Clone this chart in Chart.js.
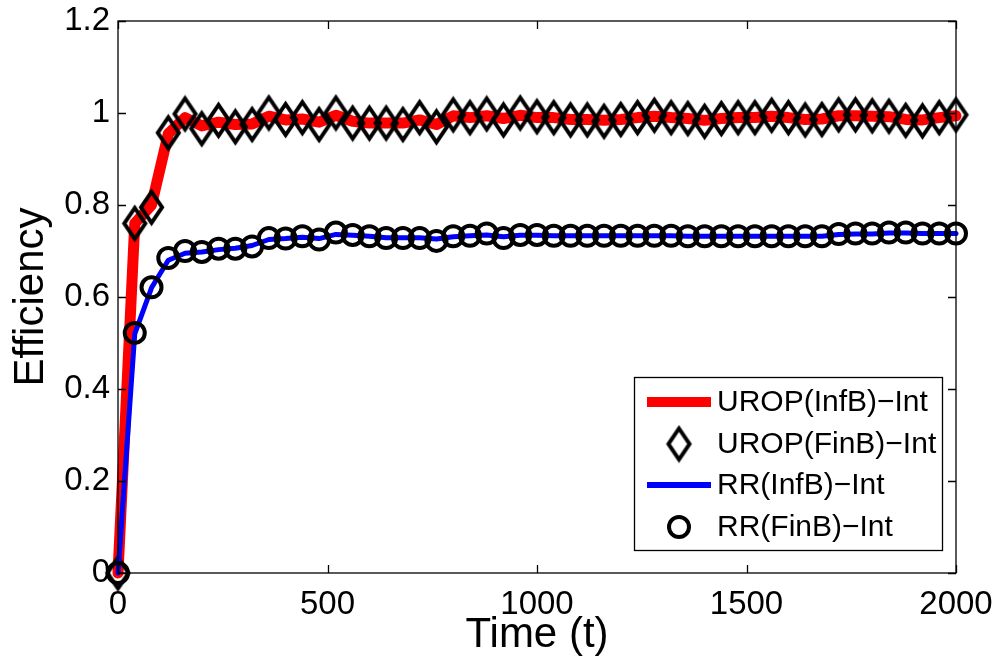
<!DOCTYPE html>
<html>
<head>
<meta charset="utf-8">
<script src="https://cdn.jsdelivr.net/npm/chart.js@4.4.1/dist/chart.umd.min.js"></script>
<style>
  html, body { margin: 0; padding: 0; background: #fff; }
  #wrap { width: 1002px; height: 662px; }
</style>
</head>
<body>
<div id="wrap"><canvas id="myEff" width="1002" height="662"></canvas></div>
<script>
// time steps (t)
const times = [0, 40, 80, 120, 160, 200, 240, 280, 320, 360, 400, 440, 480, 520, 560, 600, 640, 680, 720, 760,
  800, 840, 880, 920, 960, 1000, 1040, 1080, 1120, 1160, 1200, 1240, 1280, 1320, 1360, 1400, 1440, 1480,
  1520, 1560, 1600, 1640, 1680, 1720, 1760, 1800, 1840, 1880, 1920, 1960, 2000];

const uropInf = [0, 0.76, 0.80, 0.955, 0.99, 0.972, 0.98, 0.975, 0.976, 0.993, 0.985, 0.987, 0.98, 0.995, 0.982,
  0.978, 0.978, 0.978, 0.985, 0.975, 0.994, 0.99, 0.994, 0.988, 0.995, 0.99, 0.99, 0.986, 0.986, 0.984, 0.986,
  0.99, 0.993, 0.99, 0.988, 0.984, 0.988, 0.99, 0.99, 0.993, 0.99, 0.986, 0.987, 0.994, 0.994, 0.993, 0.992,
  0.986, 0.985, 0.99, 0.994];

const uropFin = [0, 0.76, 0.795, 0.957, 0.998, 0.966, 0.984, 0.97, 0.975, 1.0, 0.986, 0.99, 0.975, 1.0, 0.978,
  0.978, 0.978, 0.975, 0.99, 0.97, 0.996, 0.99, 0.998, 0.985, 1.0, 0.992, 0.99, 0.985, 0.985, 0.982, 0.986,
  0.99, 0.995, 0.99, 0.988, 0.982, 0.988, 0.99, 0.99, 0.995, 0.99, 0.985, 0.986, 0.996, 0.996, 0.994, 0.993,
  0.984, 0.983, 0.99, 0.996];

const rrInf = [0, 0.52, 0.62, 0.68, 0.695, 0.698, 0.703, 0.706, 0.712, 0.725, 0.727, 0.73, 0.727, 0.736, 0.734,
  0.732, 0.729, 0.729, 0.729, 0.726, 0.731, 0.733, 0.735, 0.731, 0.734, 0.734, 0.733, 0.733, 0.733, 0.733, 0.733,
  0.733, 0.733, 0.733, 0.732, 0.732, 0.732, 0.732, 0.732, 0.732, 0.732, 0.732, 0.732, 0.736, 0.737, 0.737, 0.739,
  0.739, 0.738, 0.738, 0.738];

const rrFin = [0, 0.522, 0.621, 0.685, 0.70, 0.698, 0.705, 0.705, 0.71, 0.728, 0.727, 0.732, 0.725, 0.74, 0.735,
  0.732, 0.728, 0.728, 0.728, 0.722, 0.732, 0.733, 0.738, 0.728, 0.735, 0.735, 0.733, 0.733, 0.733, 0.733, 0.733,
  0.733, 0.733, 0.733, 0.732, 0.732, 0.732, 0.732, 0.732, 0.732, 0.732, 0.732, 0.732, 0.737, 0.738, 0.738, 0.74,
  0.74, 0.738, 0.738, 0.738];

const seriesNames = ["UROP(InfB)\u2212Int", "UROP(FinB)\u2212Int", "RR(InfB)\u2212Int", "RR(FinB)\u2212Int"];
const xTicks = [0, 500, 1000, 1500, 2000];
const yTicks = [0, 0.2, 0.4, 0.6, 0.8, 1, 1.2];

const FONT = "'Liberation Sans', Arial, Helvetica, sans-serif";

function pts(ys) {
  return times.map((t, i) => ({ x: t, y: ys[i] }));
}

// tall diamond marker like matlab
function makeDiamond(w, h, lw) {
  const c = document.createElement("canvas");
  c.width = w + lw * 2;
  c.height = h + lw * 2;
  const g = c.getContext("2d");
  const cx = c.width / 2, cy = c.height / 2;
  g.beginPath();
  g.moveTo(cx, cy - h / 2);
  g.lineTo(cx + w / 2, cy);
  g.lineTo(cx, cy + h / 2);
  g.lineTo(cx - w / 2, cy);
  g.closePath();
  g.lineWidth = lw;
  g.lineJoin = "miter";
  g.strokeStyle = "#000";
  g.stroke();
  return c;
}
const diamond = makeDiamond(21, 31, 4);

function drawCircle(ctx, x, y) {
  ctx.beginPath();
  ctx.arc(x, y, 10, 0, Math.PI * 2);
  ctx.lineWidth = 4;
  ctx.strokeStyle = "#000";
  ctx.stroke();
}

const boxPlugin = {
  id: "boxPlugin",
  afterDraw(chart) {
    const ctx = chart.ctx;
    const a = chart.chartArea;
    const xs = chart.scales.x, ys = chart.scales.y;
    ctx.save();
    ctx.strokeStyle = "#000";
    ctx.lineWidth = 1.3;
    ctx.strokeRect(a.left, a.top, a.right - a.left, a.bottom - a.top);
    // inward ticks on all sides
    ctx.beginPath();
    xTicks.forEach((v) => {
      const px = Math.round(xs.getPixelForValue(v)) + 0.5;
      ctx.moveTo(px, a.bottom); ctx.lineTo(px, a.bottom - 8);
      ctx.moveTo(px, a.top); ctx.lineTo(px, a.top + 8);
    });
    yTicks.forEach((v) => {
      const py = Math.round(ys.getPixelForValue(v)) + 0.5;
      ctx.moveTo(a.left, py); ctx.lineTo(a.left + 8, py);
      ctx.moveTo(a.right, py); ctx.lineTo(a.right - 8, py);
    });
    ctx.stroke();

    // legend box
    const L = 634, T = 377, R = 942, B = 550;
    ctx.fillStyle = "#fff";
    ctx.fillRect(L, T, R - L, B - T);
    ctx.lineWidth = 1.3;
    ctx.strokeRect(L + 0.5, T + 0.5, R - L, B - T);
    const rowY = [402, 444, 485, 527];
    ctx.font = "30px " + FONT;
    ctx.textBaseline = "middle";
    ctx.textAlign = "left";
    ctx.fillStyle = "#ff0000";
    ctx.fillRect(647, rowY[0] - 5, 64, 10);
    ctx.drawImage(diamond, 679 - diamond.width / 2, rowY[1] - diamond.height / 2);
    ctx.fillStyle = "#0000ff";
    ctx.fillRect(647, rowY[2] - 3, 64, 6);
    drawCircle(ctx, 679, rowY[3]);
    ctx.fillStyle = "#000";
    seriesNames.forEach((n, i) => ctx.fillText(n, 717, rowY[i] + 1));
    ctx.restore();
  },
};

const ctx = document.getElementById("myEff");

new Chart(ctx, {
  type: "line",
  data: {
    datasets: [
      {
        label: seriesNames[0],
        data: pts(uropInf),
        borderColor: "#ff0000",
        borderWidth: 11,
        pointRadius: 0,
        borderCapStyle: "round",
        borderJoinStyle: "round",
        order: 4,
      },
      {
        label: seriesNames[1],
        data: pts(uropFin),
        showLine: false,
        pointStyle: diamond,
        pointRadius: 16,
        order: 3,
      },
      {
        label: seriesNames[2],
        data: pts(rrInf),
        borderColor: "#0000ff",
        borderWidth: 5,
        pointRadius: 0,
        borderCapStyle: "round",
        borderJoinStyle: "round",
        order: 2,
      },
      {
        label: seriesNames[3],
        data: pts(rrFin),
        showLine: false,
        pointStyle: "circle",
        pointRadius: 10,
        pointBorderWidth: 4,
        pointBorderColor: "#000",
        pointBackgroundColor: "rgba(0,0,0,0)",
        order: 1,
      },
    ],
  },
  options: {
    responsive: false,
    animation: false,
    clip: false,
    layout: { padding: { left: 0, right: 46, top: 21, bottom: 0 } },
    plugins: {
      legend: { display: false },
      tooltip: { enabled: false },
    },
    scales: {
      x: {
        type: "linear",
        min: 0,
        max: 2000,
        afterBuildTicks: (s) => { s.ticks = xTicks.map((v) => ({ value: v })); },
        afterFit: (s) => { s.height = 89; s.paddingLeft = 0; s.paddingRight = 0; },
        grid: { display: false, drawTicks: false },
        border: { display: false },
        ticks: {
          color: "#000",
          padding: 12,
          maxRotation: 0,
          font: { size: 33, family: FONT },
          callback: (v) => String(v),
        },
        title: {
          display: true,
          text: "Time (t)",
          color: "#000",
          padding: { top: 0, bottom: 1 },
          font: { size: 42, family: FONT },
        },
      },
      y: {
        min: 0,
        max: 1.2,
        afterBuildTicks: (s) => { s.ticks = yTicks.map((v) => ({ value: v })); },
        afterFit: (s) => { s.width = 118; s.paddingTop = 0; s.paddingBottom = 0; },
        grid: { display: false, drawTicks: false },
        border: { display: false },
        ticks: {
          color: "#000",
          padding: 8,
          font: { size: 33, family: FONT },
          callback: (v) => String(Number(v.toFixed(2))),
        },
        title: {
          display: true,
          text: "Efficiency",
          color: "#000",
          padding: { top: 6, bottom: 0 },
          font: { size: 42, family: FONT },
        },
      },
    },
  },
  plugins: [boxPlugin],
});
</script>
</body>
</html>
